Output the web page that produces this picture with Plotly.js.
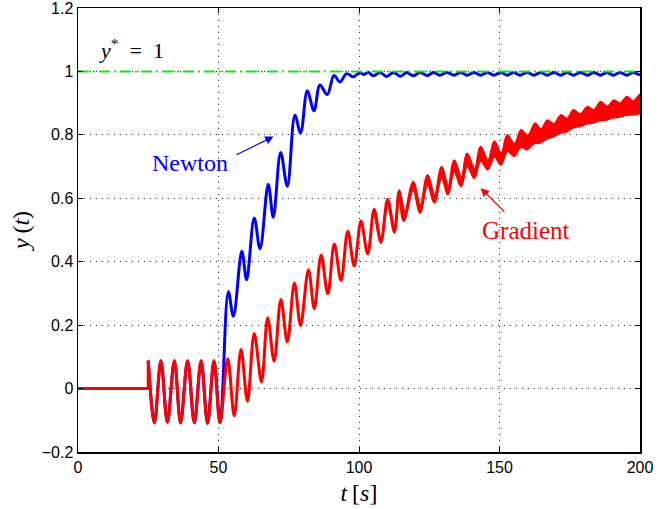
<!DOCTYPE html>
<html><head><meta charset="utf-8">
<script src="https://cdn.plot.ly/plotly-3.0.1.min.js"></script>
<style>html,body{margin:0;padding:0;background:#fff}</style>
</head><body><div id="chart" style="width:670px;height:509px"></div>
<script>
// ---- data ----
const flatT = [0, 25, 25];
const flatY = [0, 0, 0.088];

const gradT = [25,27.2,29.5,31.8,34.3,36.5,39.0,41.4,43.8,46.1,48.4,50.5,53.3,55.6,58.0,60.3,62.7,65.3,67.5,69.8,72.2,74.5,77.0,79.2,82.0,84.1,86.5,88.9,91.2,93.6,96.0,98.3,100.7,103.1,105.4,107.8,110.2,112.6,114.3,115.9,119.3,121.7,124.4,126.8,129.4,131.6,133.9,136.3,138.5,141.0,143.3,145.8,148.2,150.5,152.8,155.2,157.7,159.9,162.6,164.5,167.0,169.2,171.8,174.0,176.3,178.7,181.2,183.5,186.0,188.2,190.7,193.0,195.3,197.6,200];
const gradY = [0.088,-0.108,0.088,-0.106,0.088,-0.108,0.088,-0.108,0.088,-0.108,0.088,-0.108,0.094,-0.086,0.123,-0.040,0.174,0.021,0.223,0.086,0.281,0.147,0.333,0.199,0.375,0.252,0.421,0.299,0.456,0.341,0.496,0.387,0.528,0.425,0.565,0.462,0.596,0.494,0.622,0.531,0.649,0.557,0.670,0.589,0.696,0.615,0.717,0.641,0.738,0.667,0.759,0.694,0.777,0.709,0.796,0.736,0.812,0.757,0.833,0.778,0.843,0.797,0.859,0.814,0.875,0.830,0.885,0.841,0.901,0.851,0.906,0.860,0.917,0.867,0.922];

// thick (dithered) part of the gradient curve: upper and lower edges
const bandTopT = [105.4,107.8,110.2,112.6,114.3,116.6,119.3,121.9,124.4,127.0,129.4,131.9,133.9,136.5,138.5,141.2,143.3,145.9,148.2,150.6,152.8,155.3,157.7,160.1,162.6,164.8,167.0,169.4,171.8,174.1,176.3,178.8,181.2,183.6,186.0,188.4,190.7,193.0,195.3,197.6,200];
const bandTopY = [0.569,0.472,0.600,0.510,0.626,0.550,0.653,0.578,0.674,0.610,0.700,0.638,0.721,0.666,0.742,0.693,0.763,0.720,0.781,0.742,0.800,0.772,0.816,0.798,0.837,0.818,0.847,0.835,0.863,0.852,0.879,0.866,0.889,0.879,0.905,0.890,0.910,0.900,0.921,0.907,0.928];
const bandBotT = [105.4,107.8,110.2,112.6,114.3,116.0,119.3,121.7,124.4,126.8,129.4,131.6,133.9,136.3,138.5,141.0,143.3,145.8,148.2,150.5,152.8,155.2,157.7,159.7,162.3,164.4,167.0,169.1,171.6,173.9,176.3,178.6,181.0,183.4,185.8,188.1,190.5,192.9,195.3,197.6,200];
const bandBotY = [0.555,0.458,0.580,0.490,0.600,0.527,0.625,0.553,0.643,0.585,0.665,0.611,0.683,0.637,0.700,0.663,0.717,0.690,0.730,0.705,0.748,0.732,0.762,0.753,0.772,0.774,0.788,0.793,0.805,0.810,0.822,0.826,0.834,0.837,0.845,0.847,0.854,0.856,0.862,0.863,0.868];

const newtonT = [25,27.2,29.5,31.8,34.3,36.5,39.0,41.4,43.8,46.1,48.4,50.6,
  53.5,55.3,58.3,60.0,62.7,64.8,67.7,69.5,72.1,74.5,77.2,79.2,81.6,84.0,86.1,88.7,91.1,93.2,95.6,98.0,
  100.3,101.6,103.3,105.1,
  107.5,109.8,112.3,114.8,117.0,119.3,121.8,124.3,126.5,128.8,131.3,133.8,136.1,138.5,140.9,143.3,145.6,148.0,150.4,152.8,155.0,157.3,159.8,162.3,164.6,167.0,169.4,171.8,174.0,176.3,178.8,181.3,183.6,186.0,188.2,190.5,192.9,195.3,197.6,200];
const newtonY = [0.088,-0.108,0.088,-0.106,0.088,-0.108,0.088,-0.108,0.088,-0.110,0.088,-0.106,
  0.305,0.228,0.433,0.343,0.538,0.441,0.644,0.540,0.744,0.638,0.862,0.806,0.938,0.876,0.957,0.927,0.987,0.967,0.993,0.983,
  0.997,0.990,0.997,0.986,
  0.997,0.984,0.997,0.985,0.997,0.986,0.997,0.987,0.997,0.988,0.997,0.988,0.997,0.988,0.997,0.988,0.997,0.988,0.997,0.988,0.997,0.988,0.997,0.988,0.997,0.988,0.997,0.988,0.997,0.988,0.997,0.988,0.997,0.988,0.997,0.988,0.997,0.988,0.997,0.988];

const refT = [0, 200];
const refY = [1, 1];

const xTickVals = [0, 50, 100, 150, 200];
const xTickText = ['0', '50', '100', '150', '200'];
const yTickVals = [-0.2, 0, 0.2, 0.4, 0.6, 0.8, 1, 1.2];
const yTickText = ['\u22120.2', '0', '0.2', '0.4', '0.6', '0.8', '1', '1.2'];

// ---- traces ----
const RED = '#ff0000', BLUE = '#0000ff', GREEN = 'rgb(20,230,20)';
const traces = [
  {x: newtonT, y: newtonY, mode: 'lines', line: {color: BLUE, width: 3, shape: 'spline', smoothing: 1}, name: 'Newton'},
  {x: flatT, y: flatY, mode: 'lines', line: {color: RED, width: 3}, name: 'Gradient start'},
  {x: gradT, y: gradY, mode: 'lines', line: {color: RED, width: 3, shape: 'spline', smoothing: 1}, name: 'Gradient'},
  {x: bandTopT.concat(bandBotT.slice().reverse()), y: bandTopY.concat(bandBotY.slice().reverse()),
   mode: 'lines', fill: 'toself', fillcolor: RED, line: {color: RED, width: 1.5, shape: 'spline', smoothing: 0.8}, name: 'Gradient band'},
  {x: refT, y: refY, mode: 'lines', line: {color: GREEN, width: 2, dash: '11px,4px,2px,4px'}, name: 'y*'}
];

const serif = 'Liberation Serif, Times New Roman, serif';
const axisCommon = {
  ticks: 'inside', ticklen: 5, tickwidth: 1, tickcolor: '#000',
  showline: true, linecolor: '#000', linewidth: 1.5, mirror: 'ticks',
  showgrid: true, gridcolor: '#333', gridwidth: 1, griddash: '1px,5px',
  zeroline: false, automargin: false, ticklabeloverflow: 'allow',
  tickfont: {family: 'Liberation Sans, Arial, sans-serif', size: 16, color: '#000'}
};

const layout = {
  width: 670, height: 509,
  margin: {l: 78, r: 30, t: 8, b: 57},
  paper_bgcolor: '#fff', plot_bgcolor: '#fff',
  showlegend: false,
  xaxis: Object.assign({}, axisCommon, {
    range: [0, 200], tickmode: 'array', tickvals: xTickVals, ticktext: xTickText,
    title: {text: '<i>t</i>\u2009[<i>s</i>]', font: {family: serif, size: 24, color: '#000'}, standoff: 9}
  }),
  yaxis: Object.assign({}, axisCommon, {
    range: [-0.2, 1.2], tickmode: 'array', tickvals: yTickVals, ticktext: yTickText,
    title: {text: '<i>y</i>\u2009(<i>t</i>)', font: {family: serif, size: 24, color: '#000'}, standoff: 5}
  }),
  annotations: [
    {x: 6.6, y: 1.071, xref: 'x', yref: 'y', xanchor: 'left', yanchor: 'middle', showarrow: false,
     text: '<i>y</i><sup>*</sup>\u2002=\u20021', font: {family: serif, size: 22, color: '#000'}},
    {x: 39.9, y: 0.711, xref: 'x', yref: 'y', showarrow: false, text: 'Newton',
     font: {family: serif, size: 24, color: BLUE}},
    {x: 159.6, y: 0.497, xref: 'x', yref: 'y', showarrow: false, text: 'Gradient',
     font: {family: serif, size: 25, color: RED}},
    {x: 69.6, y: 0.795, xref: 'x', yref: 'y', ax: 55.9, ay: 0.735, axref: 'x', ayref: 'y',
     text: '', showarrow: true, arrowhead: 2, arrowsize: 1.4, arrowwidth: 1.2, arrowcolor: BLUE, standoff: 0, startstandoff: 0},
    {x: 143.3, y: 0.632, xref: 'x', yref: 'y', ax: 152.3, ay: 0.553, axref: 'x', ayref: 'y',
     text: '', showarrow: true, arrowhead: 2, arrowsize: 1.4, arrowwidth: 1.2, arrowcolor: RED, standoff: 0, startstandoff: 0}
  ]
};

Plotly.newPlot('chart', traces, layout, {staticPlot: true, displayModeBar: false});
</script>
</body></html>
